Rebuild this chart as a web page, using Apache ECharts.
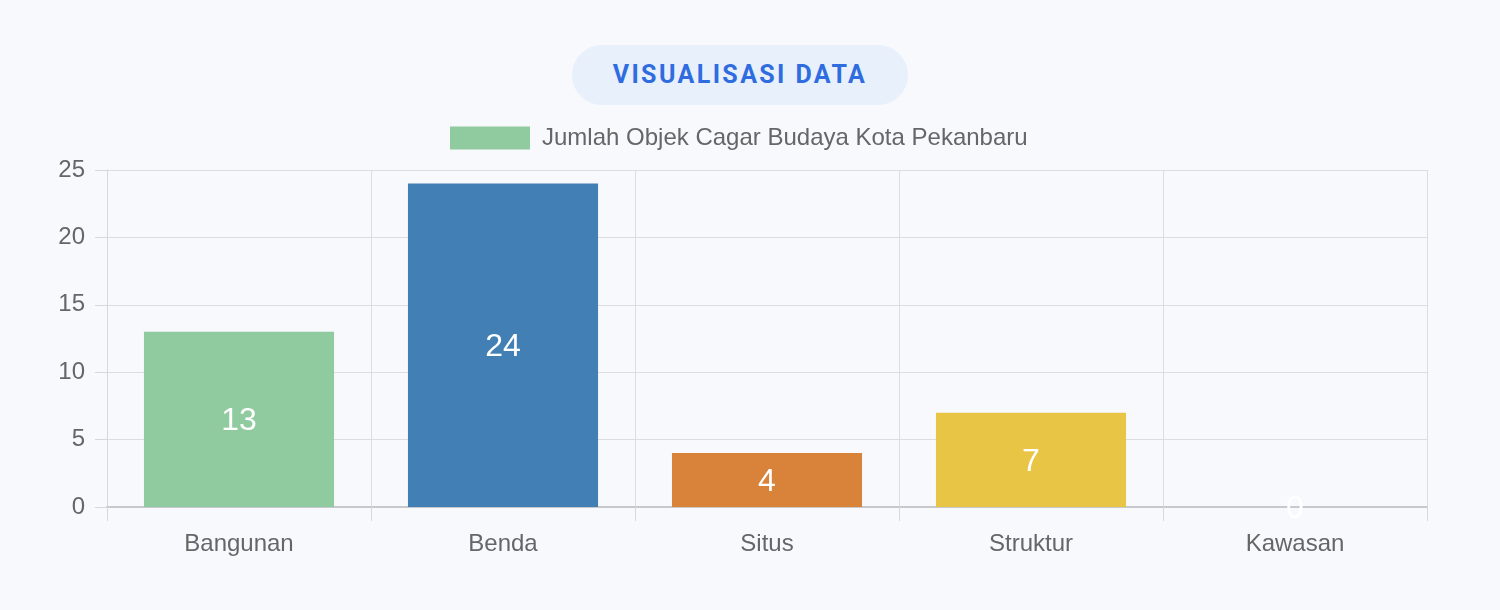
<!DOCTYPE html>
<html>
<head>
<meta charset="utf-8">
<script src="https://cdn.jsdelivr.net/npm/echarts@6/dist/echarts.min.js"></script>
<style>
  html, body { margin: 0; padding: 0; background: #f7f9fd; }
  #wrap { position: relative; width: 1500px; height: 610px; }
  #pill {
    position: absolute; left: 572px; top: 45px; width: 336px; height: 60px;
    border-radius: 30px; background: #e8f0fc; color: #2f6ce0;
    font-family: Roboto, "Open Sans", sans-serif; font-weight: 700; font-size: 25px;
    letter-spacing: 2.4px; text-align: center; line-height: 60px;
  }
  #chart { position: absolute; left: 0; top: 0; width: 1500px; height: 610px; }
</style>
</head>
<body>
<div id="wrap">
  <div id="chart"></div>
  <div id="pill">VISUALISASI DATA</div>
</div>
<script>
// data
var categories = ['Bangunan', 'Benda', 'Situs', 'Struktur', 'Kawasan'];
var values = [13, 24, 4, 7, 0];
var barColors = ['#90cba0', '#417fb5', '#d8823a', '#e8c545', '#c55a5a'];
var seriesName = 'Jumlah Objek Cagar Budaya Kota Pekanbaru';

var myChart = echarts.init(document.getElementById('chart'));

var option = {
    backgroundColor: '#f7f9fd',
    animation: false,
    textStyle: { fontFamily: '"Liberation Sans", Arial, sans-serif' },
    legend: {
        top: 121,
        left: 445,
        icon: 'rect',
        itemWidth: 80,
        itemHeight: 23,
        data: [seriesName],
        itemStyle: { color: barColors[0] },
        textStyle: { color: '#666', fontSize: 24, padding: [0, 0, 0, 7] }
    },
    grid: { left: 107, right: 73, top: 170, bottom: 103, containLabel: false },
    xAxis: {
        type: 'category',
        data: categories,
        axisLine: { lineStyle: { color: '#c8c9cd', width: 2 } },
        axisTick: { show: true, length: 14, lineStyle: { color: '#d6d7db' } },
        splitLine: { show: true, lineStyle: { color: '#dcdde1' } },
        axisLabel: { color: '#666', fontSize: 24, margin: 25 }
    },
    yAxis: {
        type: 'value',
        min: 0,
        max: 25,
        interval: 5,
        axisLine: { show: true, lineStyle: { color: '#d6d7db' } },
        axisTick: { show: true, length: 12, lineStyle: { color: '#d6d7db' } },
        splitLine: { show: true, lineStyle: { color: '#dcdde1' } },
        axisLabel: { color: '#666', fontSize: 24, margin: 22 }
    },
    series: [{
        name: seriesName,
        type: 'bar',
        barWidth: '72%',
        data: values.map(function (v, i) {
            return { value: v, itemStyle: { color: barColors[i] } };
        }),
        label: {
            show: true,
            position: 'inside',
            color: '#fff',
            fontSize: 32,
            offset: [0, 2]
        }
    }]
};

myChart.setOption(option);
</script>
</body>
</html>
